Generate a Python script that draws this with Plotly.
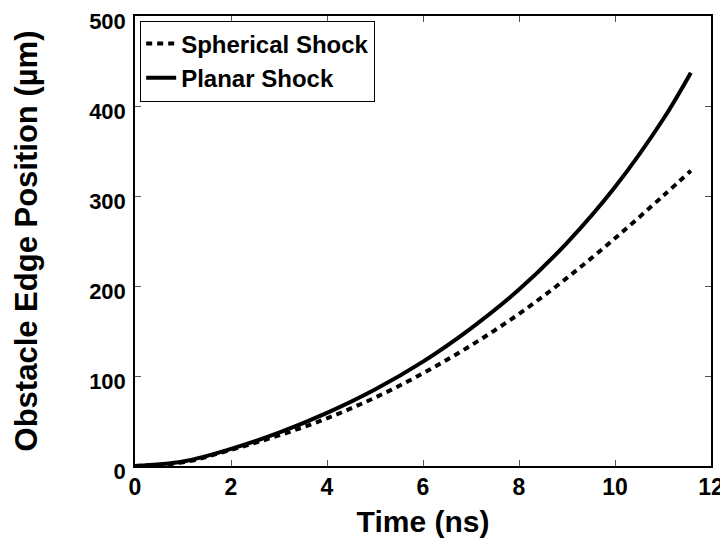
import plotly.graph_objects as go

time_planar = [0, 1, 2, 3, 4, 5, 6, 7, 8, 9, 10, 11, 11.58]
pos_planar = [0, 5, 19, 37, 59, 85, 116, 153, 196, 248, 310, 385, 437]

time_spherical = [0, 1, 2, 3, 4, 5, 6, 7, 8, 9, 10, 11, 11.58]
pos_spherical = [0, 4, 18, 34, 53, 76, 103, 134, 169, 209, 253, 300, 328]

x_ticks = [0, 2, 4, 6, 8, 10, 12]
y_ticks = [0, 100, 200, 300, 400, 500]

FONT = "Liberation Sans"

fig = go.Figure()
fig.add_trace(go.Scatter(
    x=time_spherical, y=pos_spherical, mode="lines", name="<b>Spherical Shock</b>",
    line=dict(color="black", width=4, dash="6px,5px", shape="spline"),
))
fig.add_trace(go.Scatter(
    x=time_planar, y=pos_planar, mode="lines", name="<b>Planar Shock</b>",
    line=dict(color="black", width=4, shape="spline"),
))

axis_common = dict(
    showgrid=False, zeroline=False, showline=True, linecolor="black", linewidth=1.5,
    mirror="ticks", ticks="inside", ticklen=6, tickcolor="#555", tickwidth=1,
    automargin=False, ticklabeloverflow="allow",
)

fig.update_layout(
    width=720, height=538,
    margin=dict(l=127, r=17, t=8, b=80),
    paper_bgcolor="white", plot_bgcolor="white",
    font=dict(family=FONT, color="black"),
    xaxis=dict(range=[0, 12], tickvals=x_ticks, ticktext=[str(v) for v in x_ticks],
               tickfont=dict(family=FONT, size=23, color="black", weight="bold"),
               title=dict(text="<b>Time (ns)</b>", font=dict(family=FONT, size=30), standoff=12),
               **axis_common),
    yaxis=dict(range=[0, 500], tickvals=y_ticks, ticktext=[str(v) for v in y_ticks],
               tickfont=dict(family=FONT, size=22, color="black", weight="bold"),
               title=dict(text="<b>Obstacle Edge Position (µm)</b>", font=dict(family=FONT, size=31), standoff=42),
               ticklabelstandoff=3, ticklabelshift=5,
               **axis_common),
    legend=dict(x=0.009, y=0.99, xanchor="left", yanchor="top",
                bordercolor="black", borderwidth=1, bgcolor="white",
                font=dict(family=FONT, size=24, color="black"),
                tracegroupgap=0, itemwidth=30),
    showlegend=True,
)

fig.write_html("out.html")
